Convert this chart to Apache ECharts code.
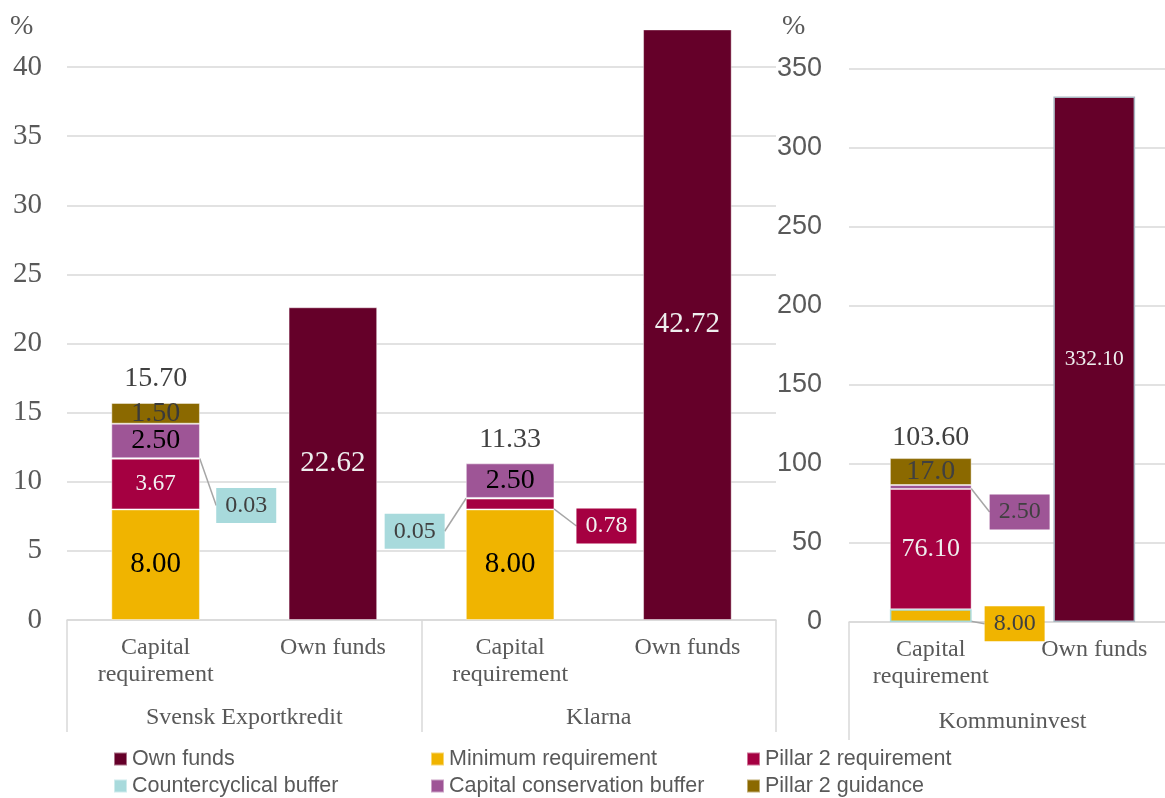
<!DOCTYPE html>
<html>
<head>
<meta charset="utf-8">
<script src="https://cdn.jsdelivr.net/npm/echarts@6/dist/echarts.min.js"></script>
<style>
html,body{margin:0;padding:0;background:#fff;}
#chart{width:1165px;height:798px;}
</style>
</head>
<body>
<div id="chart"></div>
<script>
// ---------- data ----------
const leftCats = ['Capital\nrequirement', 'Own funds', 'Capital\nrequirement', 'Own funds'];
const leftGroups = ['Svensk Exportkredit', 'Klarna'];
const rightCats = ['Capital\nrequirement', 'Own funds'];
const rightGroups = ['Kommuninvest'];

const seriesNames = ['Own funds', 'Minimum requirement', 'Pillar 2 requirement',
  'Countercyclical buffer', 'Capital conservation buffer', 'Pillar 2 guidance'];

// left panel (SEK, Klarna)
const ownFundsL = ['-', 22.62, '-', 42.72];
const minReqL   = [8.00, '-', 8.00, '-'];
const p2rL      = [3.67, '-', 0.78, '-'];
const ccybL     = [0.03, '-', 0.05, '-'];
const ccbL      = [2.50, '-', 2.50, '-'];
const p2gL      = [1.50, '-', '-', '-'];
// right panel (Kommuninvest)
const ownFundsR = ['-', 332.10];
const minReqR   = [8.00, '-'];
const p2rR      = [76.10, '-'];
const ccybR     = ['-', '-'];
const ccbR      = [2.50, '-'];
const p2gR      = [17.0, '-'];

// ---------- styles ----------
const colors = {
  'Own funds': '#650029',
  'Minimum requirement': '#F0B400',
  'Pillar 2 requirement': '#A50041',
  'Countercyclical buffer': '#A8DADC',
  'Capital conservation buffer': '#9E5596',
  'Pillar 2 guidance': '#8B6900'
};
const SERIF = '"Liberation Serif","Times New Roman",serif';
const SANS = '"Liberation Sans",Arial,sans-serif';
const GRID_C = '#d9d9d9';
const TXT = '#595959';

// label styles: [panel][seriesName][dataIndex]; callout: [dx, dy, side]
const labelStyles = {
  L: {
    'Own funds': {1: {fs: 29, c: '#eeeeee'}, 3: {fs: 29, c: '#eeeeee'}},
    'Minimum requirement': {0: {fs: 29, c: '#000'}, 2: {fs: 29, c: '#000'}},
    'Pillar 2 requirement': {0: {fs: 23, c: '#f2f2f2'}, 2: {fs: 24, c: '#f2f2f2', callout: [17, 22, 'right']}},
    'Countercyclical buffer': {0: {fs: 24, c: '#404040', callout: [11, 47, 'right']}, 2: {fs: 24, c: '#404040', callout: [-16, 33, 'left']}},
    'Capital conservation buffer': {0: {fs: 28, c: '#000'}, 2: {fs: 28, c: '#000'}},
    'Pillar 2 guidance': {0: {fs: 28, c: '#3a3a3a'}}
  },
  R: {
    'Own funds': {1: {fs: 21.5, c: '#eeeeee'}},
    'Minimum requirement': {0: {fs: 24, c: '#404040', callout: [8, 8, 'right']}},
    'Pillar 2 requirement': {0: {fs: 26, c: '#eeeeee'}},
    'Capital conservation buffer': {0: {fs: 24, c: '#404040', callout: [13, 25, 'right']}},
    'Pillar 2 guidance': {0: {fs: 28, c: '#404040', dec: 1}}
  }
};

const panelData = {
  L: [ownFundsL, minReqL, p2rL, ccybL, ccbL, p2gL],
  R: [ownFundsR, minReqR, p2rR, ccybR, ccbR, p2gR]
};

function buildSeries(panel, axisIdx) {
  const out = [];
  panelData[panel].forEach((arr, si) => {
    const name = seriesNames[si];
    const st = (labelStyles[panel][name]) || {};
    const data = arr.map((v, i) => {
      const s = st[i];
      if (v === '-' || !s) return {value: v, label: {show: false}};
      const lab = {
        show: true,
        fontFamily: SERIF,
        fontSize: s.fs,
        color: s.c,
        formatter: () => Number(v).toFixed(s.dec != null ? s.dec : 2)
      };
      if (s.callout) {
        lab.position = s.callout[2];
        lab.distance = 5;
        lab.backgroundColor = colors[name];
        lab.padding = [6, 9, 5, 9];
      } else {
        lab.position = 'inside';
      }
      const item = {value: v, label: lab};
      if (panel === 'R' && name === 'Minimum requirement') {
        item.itemStyle = {borderColor: '#A8DADC', borderWidth: 1.5};
      }
      return item;
    });
    const st2 = st;
    out.push({
      name: name,
      type: 'bar',
      stack: 'cap' + panel,
      xAxisIndex: axisIdx,
      yAxisIndex: panel === 'L' ? 0 : 1,
      barWidth: '50%',
      itemStyle: {
        color: colors[name],
        borderColor: (panel === 'R' && name === 'Own funds') ? '#a9b8c2' : 'rgba(255,255,255,0.45)',
        borderWidth: (panel === 'R' && name === 'Own funds') ? 1.5 : 1
      },
      labelLine: {show: true, lineStyle: {color: '#a6a6a6', width: 1.5}},
      labelLayout: function (p) {
        const s = st2[p.dataIndex];
        if (s && s.callout) return {dx: s.callout[0], dy: s.callout[1]};
        return {};
      },
      data: data
    });
  });
  // totals above capital requirement stacks
  const arrs = panelData[panel];
  const totals = arrs[0].map((_, i) => {
    if (arrs[1][i] === '-') return {value: '-', label: {show: false}};
    let sum = 0;
    for (let k = 1; k < arrs.length; k++) if (arrs[k][i] !== '-') sum += Number(arrs[k][i]);
    return {value: 0, label: {show: true, formatter: () => sum.toFixed(2)}};
  });
  out.push({
    name: 'total',
    type: 'bar',
    stack: 'cap' + panel,
    xAxisIndex: axisIdx,
    yAxisIndex: panel === 'L' ? 0 : 1,
    barWidth: '50%',
    itemStyle: {color: 'transparent'},
    label: {position: 'top', distance: panel === 'L' ? 10 : 6, fontFamily: SERIF, fontSize: 28, color: '#404040'},
    data: totals
  });
  return out;
}

const catLabel = {
  fontFamily: SERIF, fontSize: 24, color: TXT, lineHeight: 27, margin: 14, interval: 0
};

function legendCol(left, names) {
  return {
    orient: 'vertical', left: left, top: 748, padding: 0, itemGap: 5,
    itemWidth: 13, itemHeight: 13, icon: 'rect', selectedMode: false,
    textStyle: {fontFamily: SANS, fontSize: 21.5, color: TXT, lineHeight: 22},
    data: names
  };
}

const option = {
  animation: false,
  backgroundColor: '#ffffff',
  grid: [
    {left: 67, width: 776 - 67, top: 620 - 43 * (553 / 40), height: 43 * (553 / 40),
      containLabel: false, outerBoundsMode: 'none'},
    {left: 849, width: 327, top: 68.3, height: 622 - 68.3,
      containLabel: false, outerBoundsMode: 'none'}
  ],
  xAxis: [
    {type: 'category', gridIndex: 0, position: 'bottom', data: leftCats,
      axisLine: {show: false}, axisTick: {show: false}, axisLabel: catLabel},
    {type: 'category', gridIndex: 0, position: 'bottom', data: leftGroups,
      axisLine: {show: true, lineStyle: {color: GRID_C, width: 1.5}},
      axisTick: {show: true, interval: 0, length: 112, lineStyle: {color: GRID_C, width: 1.5}},
      axisLabel: Object.assign({}, catLabel, {margin: 84})},
    {type: 'category', gridIndex: 1, position: 'bottom', data: rightCats,
      axisLine: {show: false}, axisTick: {show: false}, axisLabel: catLabel},
    {type: 'category', gridIndex: 1, position: 'bottom', data: rightGroups,
      axisLine: {show: true, lineStyle: {color: GRID_C, width: 1.5}},
      axisTick: {show: true, interval: 0, length: 118, lineStyle: {color: GRID_C, width: 1.5}},
      axisLabel: Object.assign({}, catLabel, {margin: 86})}
  ],
  yAxis: [
    {type: 'value', gridIndex: 0, min: 0, max: 43, interval: 5,
      axisLine: {show: false}, axisTick: {show: false},
      splitLine: {show: true, showMaxLine: false, lineStyle: {color: GRID_C, width: 1.5}},
      axisLabel: {fontFamily: SERIF, fontSize: 29, color: TXT, margin: 25, showMaxLabel: false}},
    {type: 'value', gridIndex: 1, min: 0, max: 350, interval: 50,
      axisLine: {show: false}, axisTick: {show: false},
      splitLine: {show: true, lineStyle: {color: GRID_C, width: 1.5}},
      axisLabel: {fontFamily: SANS, fontSize: 27, color: TXT, margin: 27}}
  ],
  legend: [
    legendCol(113, ['Own funds', 'Countercyclical buffer']),
    legendCol(430, ['Minimum requirement', 'Capital conservation buffer']),
    legendCol(746, ['Pillar 2 requirement', 'Pillar 2 guidance'])
  ],
  graphic: [
    {type: 'text', left: 10, top: 13, style: {text: '%', fontFamily: SERIF, fontSize: 28, fill: TXT}},
    {type: 'text', left: 782, top: 13, style: {text: '%', fontFamily: SERIF, fontSize: 28, fill: TXT}}
  ],
  series: [].concat(buildSeries('L', 0), buildSeries('R', 2))
};

const chart = echarts.init(document.getElementById('chart'), null, {renderer: 'canvas'});
chart.setOption(option);
</script>
</body>
</html>
